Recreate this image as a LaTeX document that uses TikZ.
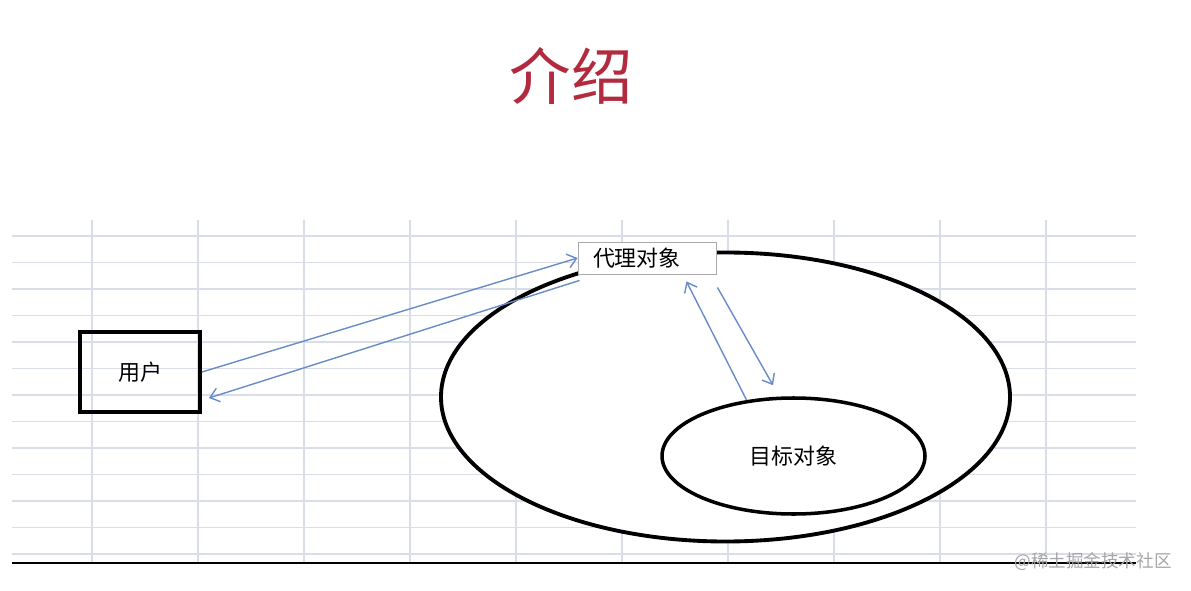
\documentclass[tikz,border=0pt]{standalone}
\usepackage{fontspec}
\setmainfont{Noto Sans CJK SC}
\usetikzlibrary{shapes.geometric, arrows.meta}
\definecolor{titre}{RGB}{178,42,62}
\definecolor{grille}{RGB}{216,221,232}
\definecolor{fleche}{RGB}{105,140,200}
\definecolor{cadre}{RGB}{170,170,170}

\begin{document}
\begin{tikzpicture}[
    arr/.style={draw=fleche, line width=0.8pt, -{Straight Barb[length=5pt,width=8pt]}},
    label/.style={font=\fontsize{12.5}{14}\selectfont}
  ]
  \useasboundingbox (0,0) rectangle (23.82,11.8);
  \node[text=titre, font=\fontsize{35}{40}\selectfont] (title) at (11.42,10.28) {介绍};
  \foreach \y in {0,...,12} \draw[grille, line width=0.6pt] % La grille
      (0.24,{7.08-0.53*\y}) -- (22.72,{7.08-0.53*\y});
  \foreach \x in {0,...,9} \draw[grille, line width=0.6pt]
      ({1.84+2.12*\x},7.4) -- ({1.84+2.12*\x},0.54);
  \draw[line width=1.4pt] (0.24,0.54) -- (22.72,0.54);
  \node[text=black!35, font=\fontsize{10}{12}\selectfont] (mark) at (21.86,0.56) {@稀土掘金技术社区};

  % Les ellipses
  \draw[line width=2.2pt, fill=white] (14.51,3.86) ellipse [x radius=5.69, y radius=2.89];
  \node[ellipse, draw, line width=2pt, fill=white, minimum width=5.26cm,
      minimum height=2.32cm, inner sep=0pt, label] (target) at (15.87,2.68) {目标对象};

  % Les boites
  \node[draw, line width=2.2pt, minimum width=2.4cm, minimum height=1.6cm, label]
      (user) at (2.8,4.36) {用户};
  \node[draw=cadre, fill=white, line width=0.5pt, minimum height=0.64cm, text width=2.16cm,
      inner xsep=0.3cm, inner ysep=0pt, align=left, label] (proxy) at (12.94,6.64) {代理对象};

  % Les fleches
  \draw[arr] (user.east) -- (proxy.west);
  \draw[arr] ([shift={(0.04,-0.12)}]proxy.south west) -- ([shift={(0.14,-0.52)}]user.east);
  \draw[arr] (target.130) -- ([shift={(-0.6,-0.14)}]proxy.south east);
  \draw[arr] ([shift={(0.02,-0.26)}]proxy.south east) -- ([shift={(-0.41,0.22)}]target.north);
\end{tikzpicture}
\end{document}
